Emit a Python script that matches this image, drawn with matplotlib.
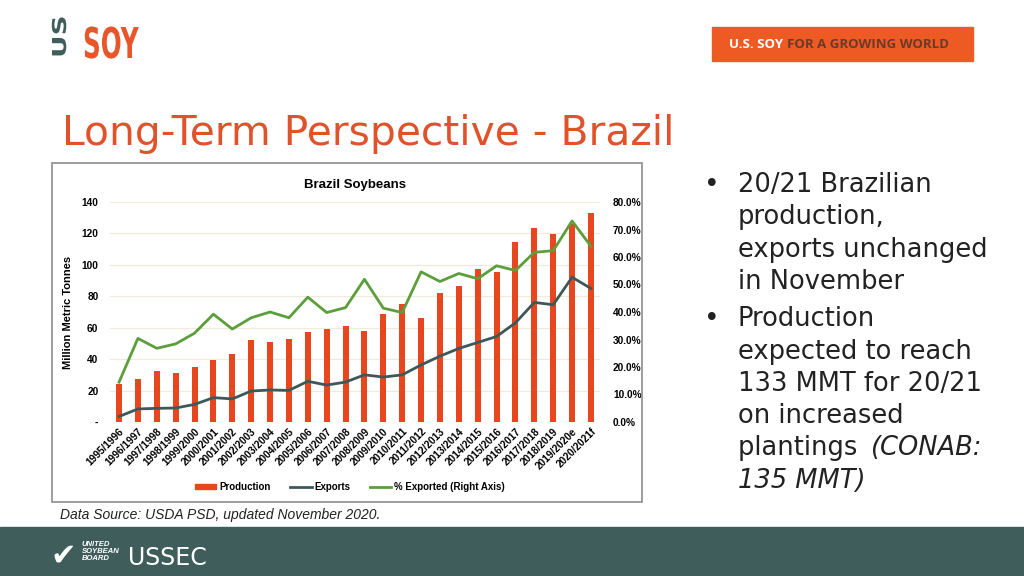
import matplotlib.pyplot as plt
from matplotlib.patches import Rectangle, PathPatch
from matplotlib.lines import Line2D
from matplotlib.textpath import TextPath
from matplotlib.font_manager import FontProperties
from matplotlib.transforms import Affine2D

# ---- data (million metric tonnes, USDA PSD) ----
seasons = ["1995/1996", "1996/1997", "1997/1998", "1998/1999", "1999/2000",
           "2000/2001", "2001/2002", "2002/2003", "2003/2004", "2004/2005",
           "2005/2006", "2006/2007", "2007/2008", "2008/2009", "2009/2010",
           "2010/2011", "2011/2012", "2012/2013", "2013/2014", "2014/2015",
           "2015/2016", "2016/2017", "2017/2018", "2018/2019", "2019/2020e",
           "2020/2021f"]
production = [24.2, 27.3, 32.5, 31.3, 34.7, 39.5, 43.5, 52.0, 51.0, 53.0,
              57.0, 59.0, 61.0, 57.8, 69.0, 75.3, 66.5, 82.0, 86.7, 97.1,
              95.7, 114.6, 123.4, 119.7, 126.0, 133.0]
exports = [3.5, 8.3, 8.7, 8.9, 11.2, 15.5, 14.7, 19.7, 20.4, 20.1,
           25.9, 23.5, 25.4, 30.0, 28.6, 30.0, 36.3, 41.9, 46.8, 50.6,
           54.4, 63.1, 76.1, 74.6, 92.1, 85.0]
pct_exported = [14.5, 30.4, 26.8, 28.4, 32.3, 39.2, 33.8, 37.9, 40.0, 37.9,
                45.4, 39.8, 41.6, 51.9, 41.4, 39.8, 54.6, 51.1, 54.0, 52.1,
                56.8, 55.1, 61.7, 62.3, 73.1, 63.9]
left_ticks = [0, 20, 40, 60, 80, 100, 120, 140]
left_labels = ["-", "20", "40", "60", "80", "100", "120", "140"]
right_ticks = [0, 10, 20, 30, 40, 50, 60, 70, 80]

bullets = [
    ["20/21 Brazilian", "production,", "exports unchanged", "in November"],
    ["Production", "expected to reach", "133 MMT for 20/21", "on increased",
     "plantings (CONAB:", "135 MMT)"],
]

ORANGE = "#E8461E"
TITLE_ORANGE = "#E2522A"
SLATE = "#3D5858"
GREEN = "#5C9E3C"
TEAL = "#3F5E5B"

plt.rcParams["font.family"] = ["Liberation Sans", "DejaVu Sans"]

fig = plt.figure(figsize=(10.24, 5.76), dpi=100)


def fx(px):
    return px / 1024


def fy(py):
    return 1 - py / 576


def squeezed_text(s, x0, y0, h, sx, color, rot=0):
    # draw text as a path, in pixel units, with horizontal squeeze
    fp = FontProperties(family="DejaVu Sans", weight="bold")
    tp = TextPath((0, 0), s, size=h / 0.73, prop=fp)
    tr = Affine2D().scale(sx, 1).rotate_deg(rot).translate(x0, 576 - y0)
    fig.patches.append(PathPatch(tr.transform_path(tp), color=color, lw=0,
                                 transform=None, zorder=3))


# footer band
fig.patches.append(Rectangle((0, 0), 1, fy(527), transform=fig.transFigure,
                             color=TEAL, zorder=0))
fig.text(fx(82), fy(541), "UNITED\nSOYBEAN\nBOARD", color="white", fontsize=5.5,
         style="italic", fontweight="bold", va="top", linespacing=1.05)
fig.text(fx(50), fy(556), "\u2714", color="white", fontsize=22, va="center",
         family="DejaVu Sans")
fig.text(fx(128), fy(558), "USSEC", color="white", fontsize=17, va="center",
         family="DejaVu Sans")

# header logos
squeezed_text("US", 66, 58, 14, 1.45, TEAL, rot=90)
squeezed_text("SOY", 83, 58, 31, 0.58, "#E8552A")
fig.patches.append(Rectangle((fx(712), fy(61)), fx(261), fy(27) - fy(61),
                             transform=fig.transFigure, color="#EE5A24", zorder=1))
fig.text(fx(729), fy(44.5), "U.S. SOY ", color="white", fontsize=9.5,
         fontweight="bold", va="center", family="Open Sans")
fig.text(fx(787), fy(44.5), "FOR A GROWING WORLD", color="#6B3A28", fontsize=9.5,
         fontweight="bold", va="center", family="Open Sans")

# slide title
fig.text(fx(62), fy(134), "Long-Term Perspective - Brazil", color=TITLE_ORANGE,
         fontsize=29.3, va="center", family="DejaVu Sans")

# bullet text
y = 185
for block in bullets:
    fig.text(fx(704), fy(y), "\u2022", fontsize=19, color="#222222", va="center",
             family="DejaVu Sans")
    for line in block:
        if line.startswith("plantings"):
            fig.text(fx(738), fy(y), "plantings ", fontsize=18.5, color="#222222",
                     va="center", family="DejaVu Sans")
            fig.text(fx(870), fy(y), "(CONAB:", fontsize=18.5, color="#222222",
                     va="center", family="DejaVu Sans", style="italic")
        elif line.startswith("135"):
            fig.text(fx(738), fy(y), line, fontsize=18.5, color="#222222",
                     va="center", family="DejaVu Sans", style="italic")
        else:
            fig.text(fx(738), fy(y), line, fontsize=18.5, color="#222222",
                     va="center", family="DejaVu Sans")
        y += 32.3
    y += 5

# chart frame
fig.patches.append(Rectangle((fx(52), fy(502)), fx(590), fy(163) - fy(502),
                             transform=fig.transFigure, fill=False,
                             edgecolor="#8C8C8C", lw=1.2, zorder=1))

fig.text(fx(60), fy(515), "Data Source: USDA PSD, updated November 2020.",
         fontsize=10, style="italic", color="#222222", va="center")

# chart
ax = fig.add_axes([fx(109.6), fy(422), fx(600.4 - 109.6), fy(202) - fy(422)])
x = list(range(len(seasons)))
ax.bar(x, production, width=0.32, color=ORANGE, label="Production", zorder=2)
ax.plot(x, exports, color=SLATE, lw=2, label="Exports", zorder=3)
ax.set_xlim(-0.5, len(seasons) - 0.5)
ax.set_ylim(0, 140)
ax.set_yticks(left_ticks)
ax.set_yticklabels(left_labels, fontsize=7.3, fontweight="bold")
ax.set_xticks(x)
ax.set_xticklabels(seasons, rotation=45, ha="right", rotation_mode="anchor",
                   fontsize=7.3, fontweight="bold")
ax.tick_params(length=0, pad=8)
ax.tick_params(axis="x", pad=3)
ax.grid(axis="y", color="#F0EBD8", lw=0.8, zorder=0)
for s in ax.spines.values():
    s.set_visible(False)
ax.set_ylabel("Million Metric Tonnes", fontsize=8, fontweight="bold", labelpad=6)
ax.set_title("Brazil Soybeans", fontsize=9.5, fontweight="bold", pad=10)

ax2 = ax.twinx()
ax2.plot(x, pct_exported, color=GREEN, lw=2, label="% Exported (Right Axis)", zorder=3)
ax2.set_ylim(0, 80)
ax2.set_yticks(right_ticks)
ax2.set_yticklabels([f"{t:.1f}%" for t in right_ticks], fontsize=7.3, fontweight="bold")
ax2.tick_params(length=0, pad=9)
for s in ax2.spines.values():
    s.set_visible(False)

handles = [Rectangle((0, 0), 1, 1, color=ORANGE),
           Line2D([], [], color=SLATE, lw=2),
           Line2D([], [], color=GREEN, lw=2)]
fig.legend(handles, ["Production", "Exports", "% Exported (Right Axis)"],
           loc="center", bbox_to_anchor=(fx(350), fy(487)), ncol=3, frameon=False,
           prop={"size": 7, "weight": "bold"}, handlelength=2.2, handleheight=0.5,
           handletextpad=0.3, columnspacing=2.0)

fig.savefig("out.png", dpi=100)
